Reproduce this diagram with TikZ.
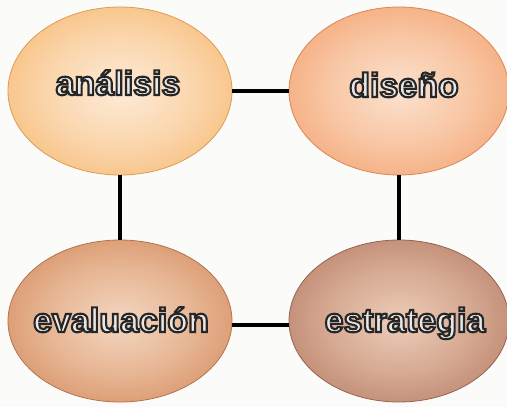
\documentclass[tikz,border=0pt]{standalone}
\usepackage{fontspec}
\usetikzlibrary{shapes.geometric}
\newfontfamily\eggfont{Liberation Sans}

% egg colours: centre, middle, rim
\definecolor{anaC}{HTML}{FDEBD8}\definecolor{anaM}{HTML}{F9C58A}\definecolor{anaE}{HTML}{F2A447}
\definecolor{disC}{HTML}{FBE2CE}\definecolor{disM}{HTML}{F6B083}\definecolor{disE}{HTML}{EE884A}
\definecolor{evaC}{HTML}{F3D7C2}\definecolor{evaM}{HTML}{DD9C70}\definecolor{evaE}{HTML}{C46E3C}
\definecolor{estC}{HTML}{ECCDB8}\definecolor{estM}{HTML}{C58D75}\definecolor{estE}{HTML}{9A5C46}
\definecolor{paper}{HTML}{FBFBFA}
\definecolor{letter}{HTML}{E8E8E8}

\newcommand\eggshading[4]{%
  \pgfdeclareradialshading{#1}{\pgfpoint{0bp}{0bp}}%
  {color(0bp)=(#2); color(16bp)=(#2!45!#3); color(34bp)=(#3!60!#4); color(48bp)=(#4); color(50bp)=(#4)}}
\eggshading{anaShade}{anaC}{anaM}{anaE}
\eggshading{disShade}{disC}{disM}{disE}
\eggshading{evaShade}{evaC}{evaM}{evaE}
\eggshading{estShade}{estC}{estM}{estE}

% light letters with a dark stroked outline (PDF text render mode 2)
\newcommand\eggtext[1]{\textcolor{letter}{%
  \special{pdf:code 2 Tr 0.15 0.15 0.15 RG 2.1 w}#1\special{pdf:code 0 Tr}}}

\begin{document}
\begin{tikzpicture}[x=1pt,y=-1pt,
  egg/.style={ellipse, inner sep=0pt, line width=0.8pt},
  word/.style={anchor=base, inner sep=0pt,
    font=\eggfont\bfseries\fontsize{34}{38}\selectfont},
  link/.style={line width=3.6pt, black}]
  \fill[paper] (0,0) rectangle (507,407);
  \useasboundingbox (0,0) rectangle (507,407);

  \node[egg, minimum width=224pt, minimum height=168pt,
        shading=anaShade, draw=anaE!80!gray] (analisis) at (120,91) {};
  \node[egg, minimum width=220pt, minimum height=168pt,
        shading=disShade, draw=disE!80!gray] (diseno) at (399,91) {};
  \node[egg, minimum width=224pt, minimum height=162pt,
        shading=evaShade, draw=evaE!80!gray] (evaluacion) at (120,321) {};
  \node[egg, minimum width=220pt, minimum height=162pt,
        shading=estShade, draw=estE!80!gray] (estrategia) at (399,321) {};

  \draw[link] (analisis.east) -- (diseno.west);
  \draw[link] (analisis.south) -- (evaluacion.north);
  \draw[link] (diseno.south) -- (estrategia.north);
  \draw[link] ([yshift=-4pt]evaluacion.east) -- ([yshift=-4pt]estrategia.west);

  \node[word] (analisis-t) at (118,95) {\eggtext{análisis}};
  \node[word] (diseno-t) at (404,97) {\eggtext{diseño}};
  \node[word] (evaluacion-t) at (121,332) {\eggtext{evaluación}};
  \node[word] (estrategia-t) at (405,332) {\eggtext{estrategia}};
\end{tikzpicture}
\end{document}
